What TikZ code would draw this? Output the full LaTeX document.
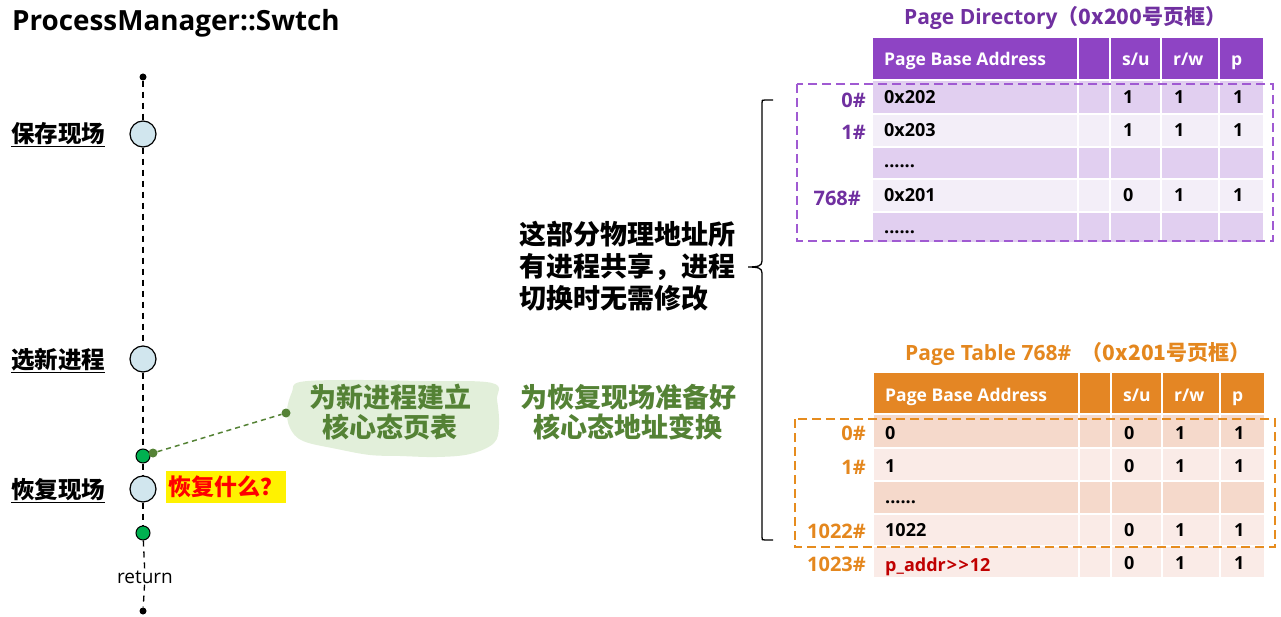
\documentclass[tikz,border=0pt]{standalone}
\usepackage{fontspec}
\setmainfont{Open Sans}
\newfontfamily\cjk{Noto Sans CJK SC}
\definecolor{tpurple}{RGB}{112,48,160}
\definecolor{phead}{RGB}{142,68,196}
\definecolor{pdashc}{RGB}{160,90,210}
\definecolor{pdark}{RGB}{225,207,240}
\definecolor{plight}{RGB}{243,238,248}
\definecolor{torange}{RGB}{228,135,30}
\definecolor{ohead}{RGB}{228,134,36}
\definecolor{odashc}{RGB}{230,140,30}
\definecolor{odark}{RGB}{245,217,203}
\definecolor{olight}{RGB}{250,235,231}
\definecolor{tred}{RGB}{192,0,0}
\definecolor{tgreen}{RGB}{84,130,53}
\definecolor{blobc}{RGB}{226,239,218}
\definecolor{cblue}{RGB}{209,230,238}
\definecolor{cgreen}{RGB}{0,176,80}
\newcommand\tblrow[4]{\foreach \a/\b in #1 {\fill[#4] (\a,#2) rectangle (\b,#3);}}
\def\pcols{873/1077,1079/1109,1111/1160,1162/1218,1220/1263}
\def\ocols{874/1078,1080/1110,1112/1161,1163/1219,1221/1264}
\begin{document}
\begin{tikzpicture}[x=1pt,y=-1pt,
  tl/.style={draw=black, line width=1.3pt, dash pattern=on 6pt off 5pt},
  bluec/.style={circle, draw=black, line width=1.2pt, fill=cblue, minimum size=26pt, inner sep=0pt},
  greenc/.style={circle, draw=black, line width=1pt, fill=cgreen, minimum size=14pt, inner sep=0pt},
  blackdot/.style={circle, fill=black, minimum size=7pt, inner sep=0pt},
  olivedot/.style={circle, fill=tgreen, minimum size=9pt, inner sep=0pt},
  lbl/.style={font=\cjk\bfseries\fontsize{23.5}{28}\selectfont, inner sep=0pt, anchor=west},
  hdr/.style={font=\bfseries\fontsize{17.5}{20}\selectfont, text=white, inner sep=0pt, anchor=base west},
  cell/.style={font=\bfseries\fontsize{18}{20}\selectfont, inner sep=0pt, anchor=base west},
  plbl/.style={font=\bfseries\fontsize{20}{22}\selectfont, inner sep=0pt, anchor=base east, text=tpurple},
  olbl/.style={font=\bfseries\fontsize{20}{22}\selectfont, inner sep=0pt, anchor=base east, text=torange},
  gtext/.style={font=\cjk\bfseries\fontsize{27}{30}\selectfont, text=tgreen, align=center, inner sep=0pt},
  ulline/.style={line width=1.6pt}]
\useasboundingbox (0,0) rectangle (1281,617);

% title
\node[anchor=base west, inner sep=0pt, font=\bfseries\fontsize{27.8}{32}\selectfont] (title) at (12,31) {ProcessManager::Swtch};

% timeline
\node[blackdot] (ttop) at (143,77) {};
\node[blackdot] (tbot) at (143,611) {};
\node[bluec] (c1) at (143,134) {};
\node[bluec] (c2) at (143,359) {};
\node[greenc] (g1) at (143,456) {};
\node[bluec] (c3) at (143,489) {};
\node[greenc] (g2) at (143,533) {};
\node[font=\fontsize{19}{22}\selectfont, inner sep=1pt] (ret) at (145,577) {return};
\draw[tl] (ttop) -- (c1);
\draw[tl] (c1) -- (c2);
\draw[tl] (c2) -- (g1);
\draw[tl] (g1) -- (c3);
\draw[tl] (c3) -- (g2);
\draw[tl] (g2) -- (ret);
\draw[tl] (ret) -- (tbot);

% labels
\node[lbl] (l1) at (11,134) {保存现场};
\node[lbl] (l2) at (11,360) {选新进程};
\node[lbl] (l3) at (11,490) {恢复现场};
\foreach \n in {l1,l2,l3}
  \draw[ulline] ([yshift=-3.5pt]\n.base west) -- ([yshift=-3.5pt]\n.base east);

\node[fill=yellow, text=red, minimum width=120pt, minimum height=32pt, inner sep=0pt,
      font=\cjk\bfseries\fontsize{23}{26}\selectfont] (what) at (226,487) {恢复什么？};

% blob
\fill[blobc] plot[smooth cycle, tension=0.6] coordinates {(300,382) (350,380) (420,381) (492,383) (497,400) (499,425) (494,443) (470,454) (437,457) (400,456) (370,455) (337,449) (303,441) (290,428) (287,410) (292,392)};
\node[gtext] (blobtxt) at (390,412) {为新进程建立\\核心态页表};
\node[gtext] (gtxt2) at (628,412) {为恢复现场准备好\\核心态地址变换};

% green dashed connector
\node[olivedot] (gd1) at (153,453) {};
\node[olivedot] (gd2) at (286,413) {};
\draw[tgreen, line width=1.5pt, dash pattern=on 5pt off 4pt] (gd1) -- (gd2);

% black text
\node[anchor=west, align=left, inner sep=0pt, font=\cjk\bfseries\fontsize{27}{32}\selectfont] (shared) at (519,266)
  {这部分物理地址所\\有进程共享，进程\\切换时无需修改};

% brace
\draw[line width=1.3pt] (773,100) -- (765,100) .. controls (762,100) .. (762,103) -- (762,261)
  .. controls (762,266) and (758,267) .. (748,267)
  .. controls (758,267) and (762,268) .. (762,273) -- (762,537)
  .. controls (762,540) .. (765,540) -- (773,540);

% ---------- Page Directory ----------
\node[anchor=base west, inner sep=0pt, text=tpurple, font=\bfseries\fontsize{21}{24}\selectfont] (pdtitle) at (904,25) {Page Directory{\cjk （0x200号页框）}};
\tblrow{\pcols}{38}{79}{phead}
\tblrow{\pcols}{81}{113}{pdark}
\tblrow{\pcols}{115}{146}{plight}
\tblrow{\pcols}{148}{178}{pdark}
\tblrow{\pcols}{180}{211}{plight}
\tblrow{\pcols}{213}{242}{pdark}
\node[hdr] (pdh1) at (884,66) {Page Base Address};
\node[hdr] (pdh2) at (1122,66) {s/u};
\node[hdr] (pdh3) at (1173,66) {r/w};
\node[hdr] (pdh4) at (1231,66) {p};
% rows
\node[cell] (pd0a) at (884,104) {0x202};
\node[cell] (pd0b) at (1123,104) {1};
\node[cell] (pd0c) at (1174,104) {1};
\node[cell] (pd0d) at (1233,104) {1};
\node[cell] (pd1a) at (884,137) {0x203};
\node[cell] (pd1b) at (1123,137) {1};
\node[cell] (pd1c) at (1174,137) {1};
\node[cell] (pd1d) at (1233,137) {1};
\node[cell] (pd2a) at (884,168) {......};
\node[cell] (pd3a) at (884,202) {0x201};
\node[cell] (pd3b) at (1123,202) {0};
\node[cell] (pd3c) at (1174,202) {1};
\node[cell] (pd3d) at (1233,202) {1};
\node[cell] (pd4a) at (884,234) {......};
\node[plbl] (pdl0) at (866,108) {0\#};
\node[plbl] (pdl1) at (866,140) {1\#};
\node[plbl] (pdl3) at (861,206) {768\#};
\draw[pdashc, line width=2.2pt, dash pattern=on 9pt off 5pt] (797,84) rectangle (1273,241);

% ---------- Page Table ----------
\node[anchor=base west, inner sep=0pt, text=torange, font=\bfseries\fontsize{21}{24}\selectfont] (pttitle) at (905,360) {Page Table 768\#\ \ {\cjk （0x201号页框）}};
\tblrow{\ocols}{373}{413}{ohead}
\tblrow{\ocols}{415}{447}{odark}
\tblrow{\ocols}{449}{480}{olight}
\tblrow{\ocols}{482}{513}{odark}
\tblrow{\ocols}{515}{545}{olight}
\tblrow{\ocols}{547}{577}{olight}
\node[hdr] (pth1) at (885,401) {Page Base Address};
\node[hdr] (pth2) at (1123,401) {s/u};
\node[hdr] (pth3) at (1174,401) {r/w};
\node[hdr] (pth4) at (1232,401) {p};
\node[cell] (pt0a) at (885,439) {0};
\node[cell] (pt0b) at (1124,439) {0};
\node[cell] (pt0c) at (1175,439) {1};
\node[cell] (pt0d) at (1234,439) {1};
\node[cell] (pt1a) at (885,472) {1};
\node[cell] (pt1b) at (1124,472) {0};
\node[cell] (pt1c) at (1175,472) {1};
\node[cell] (pt1d) at (1234,472) {1};
\node[cell] (pt2a) at (885,503) {......};
\node[cell] (pt3a) at (885,536) {1022};
\node[cell] (pt3b) at (1124,536) {0};
\node[cell] (pt3c) at (1175,536) {1};
\node[cell] (pt3d) at (1234,536) {1};
\node[cell, text=tred] (pt4a) at (885,571) {p\_addr\kern1pt>{}\kern1.5pt>{}\kern1pt12};
\node[cell] (pt4b) at (1124,569) {0};
\node[cell] (pt4c) at (1175,569) {1};
\node[cell] (pt4d) at (1234,569) {1};
\node[olbl] (ptl0) at (866,440) {0\#};
\node[olbl] (ptl1) at (866,474) {1\#};
\node[olbl] (ptl3) at (866,538) {1022\#};
\node[olbl] (ptl4) at (866,571) {1023\#};
\draw[odashc, line width=2.2pt, dash pattern=on 9pt off 5pt] (795,419) rectangle (1275,547);
\end{tikzpicture}
\end{document}
